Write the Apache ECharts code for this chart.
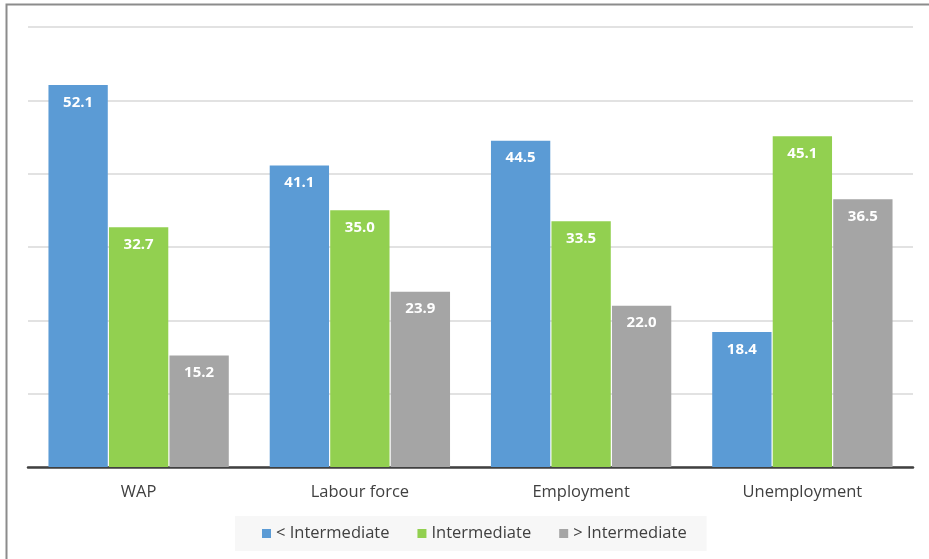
<!DOCTYPE html>
<html>
<head>
<meta charset="utf-8">
<script src="https://cdn.jsdelivr.net/npm/echarts@6/dist/echarts.min.js"></script>
<style>
  html, body { margin: 0; padding: 0; background: #fff; }
  #chart { width: 929px; height: 559px; }
</style>
</head>
<body>
<div id="chart"></div>
<script>
// Population shares by education level (%)
const categories = ['WAP', 'Labour force', 'Employment', 'Unemployment'];
const belowIntermediate = [52.1, 41.1, 44.5, 18.4];
const intermediate = [32.7, 35.0, 33.5, 45.1];
const aboveIntermediate = [15.2, 23.9, 22.0, 36.5];
const seriesNames = ['< Intermediate', 'Intermediate', '> Intermediate'];
const seriesColors = ['#5b9bd5', '#92d050', '#a5a5a5'];

const FONT = '"Open Sans", Lato, sans-serif';

const chart = echarts.init(document.getElementById('chart'), null, { renderer: 'canvas' });

const makeSeries = (name, data, color) => ({
  name: name,
  type: 'bar',
  data: data,
  barGap: '2%',
  barCategoryGap: '18.5%',
  itemStyle: { color: color },
  label: {
    show: true,
    position: 'insideTop',
    distance: 10,
    color: '#ffffff',
    fontWeight: 'bold',
    fontSize: 15,
    fontFamily: FONT,
    formatter: p => p.value.toFixed(1)
  }
});

chart.setOption({
  animation: false,
  backgroundColor: '#ffffff',
  graphic: [{
    type: 'rect',
    shape: { x: 6.5, y: 4.5, width: 940, height: 580 },
    style: { fill: 'none', stroke: '#8c8c8c', lineWidth: 2 },
    silent: true
  }],
  grid: { left: 28, right: 16, top: 27, bottom: 92, containLabel: false },
  legend: {
    bottom: 8,
    left: 235,
    itemWidth: 9,
    itemHeight: 9,
    itemGap: 28,
    padding: [9, 20, 9, 27],
    backgroundColor: '#f7f7f7',
    icon: 'rect',
    textStyle: { color: '#404040', fontSize: 16.5, fontFamily: FONT },
    data: seriesNames
  },
  xAxis: {
    type: 'category',
    data: categories,
    axisLine: { lineStyle: { color: '#404040', width: 2.5 } },
    axisTick: { show: false },
    axisLabel: { color: '#404040', fontSize: 16.5, fontFamily: FONT, margin: 17 }
  },
  yAxis: {
    type: 'value',
    min: 0,
    max: 60,
    interval: 10,
    axisLine: { show: false },
    axisTick: { show: false },
    axisLabel: { show: false },
    splitLine: { lineStyle: { color: '#d9d9d9', width: 1.5 } }
  },
  series: [
    makeSeries(seriesNames[0], belowIntermediate, seriesColors[0]),
    makeSeries(seriesNames[1], intermediate, seriesColors[1]),
    makeSeries(seriesNames[2], aboveIntermediate, seriesColors[2])
  ]
});
</script>
</body>
</html>
